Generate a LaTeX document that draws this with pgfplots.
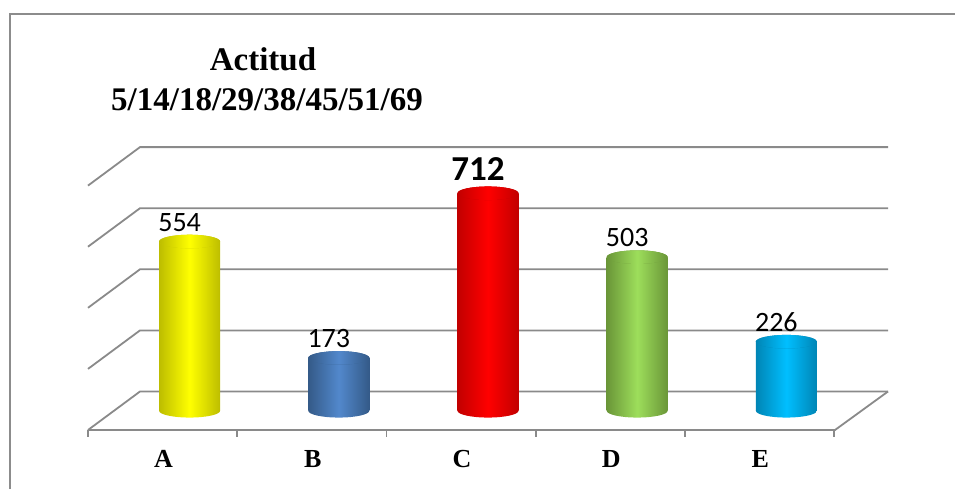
\documentclass[border=0pt]{standalone}
\usepackage{pgfplots}
\pgfplotsset{compat=1.18}
\usepackage{fontspec}
\setmainfont{Liberation Serif}
\newfontfamily\carlito{Carlito}
\definecolor{gridc}{HTML}{8A8A8A}
\definecolor{framec}{HTML}{8C8C8C}
\definecolor{yA}{HTML}{FFFF00}\definecolor{yAd}{HTML}{BDBD00}\definecolor{yAt}{HTML}{CACA00}
\definecolor{bB}{HTML}{5288CC}\definecolor{bBd}{HTML}{345A88}\definecolor{bBt}{HTML}{3A6494}
\definecolor{rC}{HTML}{FF0000}\definecolor{rCd}{HTML}{C20000}\definecolor{rCt}{HTML}{C80000}
\definecolor{gD}{HTML}{9DDE5B}\definecolor{gDd}{HTML}{6A9638}\definecolor{gDt}{HTML}{74A03E}
\definecolor{cE}{HTML}{00BFFF}\definecolor{cEd}{HTML}{0085B5}\definecolor{cEt}{HTML}{0089BA}
\newcommand\cylmarks[3]{%
  \pgfdeclareplotmark{bot#1}{\path[draw=none,left color=#2,right color=#2,middle color=#1] (0pt,0pt) ellipse (15.25pt and 3.4pt);}%
  \pgfdeclareplotmark{top#1}{\path[draw=none,fill=#3] (0pt,0pt) ellipse (15.25pt and 3.4pt);}%
}
\cylmarks{yA}{yAd}{yAt}
\cylmarks{bB}{bBd}{bBt}
\cylmarks{rC}{rCd}{rCt}
\cylmarks{gD}{gDd}{gDt}
\cylmarks{cE}{cEd}{cEt}
\begin{document}
\begin{tikzpicture}
\path[use as bounding box] (0pt,0pt) rectangle (477.5pt,-244.5pt);
\begin{scope}[x=0.5pt,y=-0.5pt]
  % frame
  \draw[framec, line width=1pt] (9.5,489) -- (9.5,13.5) -- (955,13.5);
  % back wall grid lines and side diagonals
  \foreach \yy in {391.5,330.4,269.3,208.2,147.1}{
    \draw[gridc, line width=0.9pt] (88,\yy+38.5) -- (140,\yy) -- (888,\yy);
  }
  % floor front edge and right diagonal
  \draw[gridc, line width=0.9pt] (88,430) -- (835,430) -- (888,391.5);
  \foreach \xx in {88,237.2,386.4,535.6,684.8,834}{
    \draw[gridc, line width=0.9pt] (\xx,430) -- (\xx,437);
  }
  % title
  \node[anchor=base, font=\bfseries\fontsize{16.5}{19}\selectfont, inner sep=0pt] at (263,70) {Actitud};
  \node[anchor=base, font=\bfseries\fontsize{16.5}{19}\selectfont, inner sep=0pt] at (267,110) {5/14/18/29/38/45/51/69};
\end{scope}
\begin{axis}[
  at={(57.5pt,-205.375pt)}, anchor=south west,
  scale only axis, width=373pt, height=122.2pt,
  xmin=-0.5, xmax=4.5, ymin=0, ymax=800,
  clip=false,
  /pgf/number format/assume math mode=true,
  axis line style={draw=none},
  xtick={0,1,2,3,4}, xticklabels={A,B,C,D,E},
  ytick=\empty, major tick length=0pt,
  xticklabel style={font=\bfseries\fontsize{13}{15}\selectfont, anchor=base, xshift=-13pt, yshift=-28.6pt, inner sep=0pt},
  every node near coord/.append style={font=\carlito\fontsize{14}{16}\selectfont, anchor=base, xshift=-5pt, yshift=5.25pt, inner sep=0pt, text=black},
]
% bottom ellipses
\addplot[only marks, mark=botyA] coordinates {(0,0)};
\addplot[only marks, mark=botbB] coordinates {(1,0)};
\addplot[only marks, mark=botrC] coordinates {(2,0)};
\addplot[only marks, mark=botgD] coordinates {(3,0)};
\addplot[only marks, mark=botcE] coordinates {(4,0)};
% bodies with top ellipses
\addplot[ybar, bar width=0.409, bar shift=0pt, draw=none, left color=yAd, right color=yAd, middle color=yA, mark=topyA, nodes near coords] coordinates {(0,554)};
\addplot[ybar, bar width=0.409, bar shift=0pt, draw=none, left color=bBd, right color=bBd, middle color=bB, mark=topbB, nodes near coords] coordinates {(1,173)};
\addplot[ybar, bar width=0.409, bar shift=0pt, draw=none, left color=rCd, right color=rCd, middle color=rC, mark=toprC, nodes near coords,
  nodes near coords style={font=\carlito\bfseries\fontsize{17.5}{19}\selectfont, yshift=1.25pt}] coordinates {(2,712)};
\addplot[ybar, bar width=0.409, bar shift=0pt, draw=none, left color=gDd, right color=gDd, middle color=gD, mark=topgD, nodes near coords] coordinates {(3,503)};
\addplot[ybar, bar width=0.409, bar shift=0pt, draw=none, left color=cEd, right color=cEd, middle color=cE, mark=topcE, nodes near coords] coordinates {(4,226)};
\end{axis}
\end{tikzpicture}
\end{document}
